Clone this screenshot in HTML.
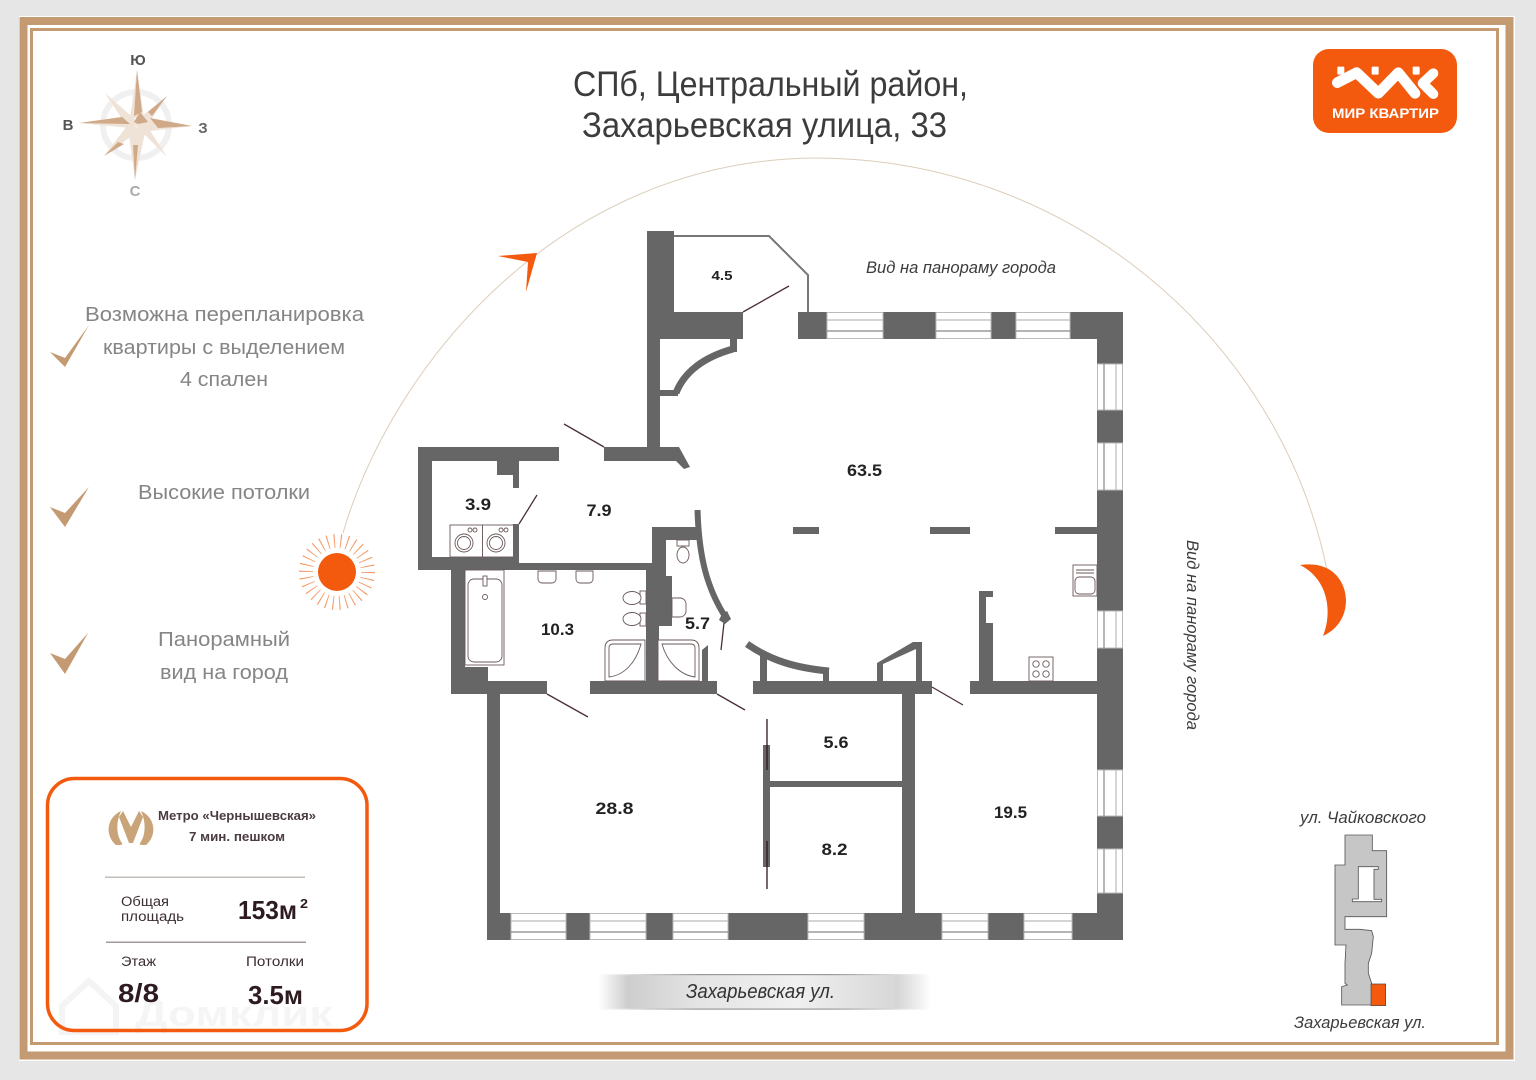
<!DOCTYPE html>
<html lang="ru"><head><meta charset="utf-8"><title>План квартиры</title>
<style>html,body{margin:0;padding:0;background:#e6e6e6}svg{display:block}text{font-family:"Liberation Sans",sans-serif}</style></head>
<body>
<svg xmlns="http://www.w3.org/2000/svg" width="1536" height="1080" viewBox="0 0 1536 1080">
<defs>
<linearGradient id="st" x1="0" x2="1" y1="0" y2="0"><stop offset="0" stop-color="#fff"/><stop offset=".025" stop-color="#f2f2f2"/><stop offset=".09" stop-color="#cdcdcd"/><stop offset=".3" stop-color="#e4e4e4"/><stop offset=".6" stop-color="#f0f0f0"/><stop offset=".9" stop-color="#d6d6d6"/><stop offset=".975" stop-color="#f4f4f4"/><stop offset="1" stop-color="#fff"/></linearGradient>
<linearGradient id="stl" x1="0" x2="1" y1="0" y2="0"><stop offset="0" stop-color="#fff"/><stop offset=".3" stop-color="#999"/><stop offset=".7" stop-color="#999"/><stop offset="1" stop-color="#fff"/></linearGradient>
</defs>
<rect width="1536" height="1080" fill="#e6e6e6"/>
<rect x="19" y="16" width="1496" height="1045" fill="#fff"/>
<rect x="23.500" y="21" width="1486" height="1034.500" fill="none" stroke="#c49a72" stroke-width="8"/>
<rect x="31.500" y="29.500" width="1466" height="1014" fill="#fff" stroke="#c49a72" stroke-width="3"/>

<!-- sun arc -->
<path d="M343 533 C 392 365, 560 160, 815 158 C 1070 158, 1280 340, 1327 570" fill="none" stroke="#dccdba" stroke-width="1"/>
<polygon points="537,253 498,256 528,262 526,292" fill="#f35a0e"/>
<circle cx="337" cy="572" r="31" fill="none" stroke="#f59a68" stroke-width="14" stroke-dasharray="1 5.490"/>
<circle cx="337" cy="572" r="19" fill="#f35a0e"/>
<path d="M1300 565 C 1335 560, 1346 585, 1346 600 C 1346 618, 1336 630, 1323 636 C 1332 615, 1330 580, 1300 565Z" fill="#f35a0e"/>

<!-- compass -->
<circle cx="136" cy="125" r="33" fill="none" stroke="#f0f0f0" stroke-width="6"/>
<g fill="#efe2d7">
<polygon points="137,70 144,118 130,118"/><polygon points="135,180 128,128 146,128"/><polygon points="79,123 130,116 130,128"/><polygon points="192,126 140,118 142,132"/>
<polygon points="105,93 138,122 128,128"/><polygon points="167,96 132,124 144,130"/><polygon points="104,156 130,122 140,130"/><polygon points="167,157 132,122 142,118"/>
</g>
<g fill="#cfa988">
<polygon points="137,70 142,112 134,116"/><polygon points="135,180 133,145 138,145"/><polygon points="79,123 122,117 130,124"/><polygon points="192,126 150,118 158,128"/>
<polygon points="167,96 148,112 152,116"/><polygon points="104,156 118,142 124,144"/><polygon points="134,122 140,112 148,122 138,124"/>
</g>
<g font-weight="bold" font-size="15" text-anchor="middle">
<text x="138" y="65" fill="#555">Ю</text><text x="68" y="130" fill="#555">В</text><text x="203" y="133" fill="#666">З</text><text x="135" y="196" fill="#aaa">С</text>
</g>

<!-- title -->
<g fill="#3c3c3c" font-size="35">
<text x="573" y="96" textLength="395" lengthAdjust="spacingAndGlyphs">СПб, Центральный район,</text>
<text x="582" y="137" textLength="365" lengthAdjust="spacingAndGlyphs">Захарьевская улица, 33</text>
</g>

<!-- logo -->
<rect x="1313" y="49" width="144" height="84" rx="16" fill="#f35a0e"/>
<g transform="translate(1300 40) scale(.3333)">
<polyline points="112,128 170,98 235,160 295,98 345,160" fill="none" stroke="#fff" stroke-width="32" stroke-linejoin="round" stroke-linecap="round"/>
<polyline points="400,100 368,130 400,162" fill="none" stroke="#fff" stroke-width="30" stroke-linejoin="round" stroke-linecap="round"/>
<rect x="112" y="80" width="21" height="24" rx="3" fill="#fff"/><rect x="215" y="80" width="21" height="24" rx="3" fill="#fff"/><rect x="338" y="80" width="21" height="24" rx="3" fill="#fff"/>
</g>
<text x="1332" y="118" fill="#fff" font-weight="bold" font-size="13.500" textLength="107" lengthAdjust="spacingAndGlyphs">МИР КВАРТИР</text>

<!-- features -->
<g fill="#c49a72">
<polygon points="50,352 65,358 89,325 65,367"/><polygon points="50,507 65,513 89,487 65,527"/><polygon points="50,653 65,659 88,633 65,674"/>
</g>
<g fill="#858585" font-size="20">
<text x="85" y="321" textLength="279" lengthAdjust="spacingAndGlyphs">Возможна перепланировка</text>
<text x="103" y="354" textLength="242" lengthAdjust="spacingAndGlyphs">квартиры с выделением</text>
<text x="180" y="386" textLength="88" lengthAdjust="spacingAndGlyphs">4 спален</text>
<text x="138" y="499" textLength="172" lengthAdjust="spacingAndGlyphs">Высокие потолки</text>
<text x="158" y="646" textLength="132" lengthAdjust="spacingAndGlyphs">Панорамный</text>
<text x="160" y="679" textLength="128" lengthAdjust="spacingAndGlyphs">вид на город</text>
</g>

<!-- metro card -->
<g fill="#f1f1f1" opacity=".7">
<path d="M62 1006 L89 981 L116 1006 L116 1032 L62 1032Z" fill="none" stroke="#efefef" stroke-width="6"/>
<text x="135" y="1026" font-size="36" font-weight="bold" textLength="197" lengthAdjust="spacingAndGlyphs">Домклик</text>
</g>
<rect x="47.500" y="778.500" width="319.500" height="252" rx="27" fill="none" stroke="#f35a0e" stroke-width="3.500"/>
<g fill="#c9a478">
<path d="M121 811 C 106 818, 105 836, 116 845 C 121 845, 123 845, 122 843 C 116 835,116 822,121 811Z"/>
<path d="M141 811 C 156 818, 157 836, 146 845 C 141 845, 139 845, 140 843 C 146 835,146 822,141 811Z"/>
<path d="M123 811 L131 827 L139 811 L143 817 L133 843 L129 843 L119 817Z"/>
</g>
<g fill="#3a2c30" font-size="12.500">
<text x="158" y="820" font-weight="bold" fill="#4a3c40" textLength="158" lengthAdjust="spacingAndGlyphs">Метро «Чернышевская»</text>
<text x="189" y="841" font-weight="bold" fill="#4a3c40" textLength="96" lengthAdjust="spacingAndGlyphs">7 мин. пешком</text>
<text x="121" y="906" font-size="13.500" textLength="48" lengthAdjust="spacingAndGlyphs">Общая</text>
<text x="121" y="921" font-size="13.500" textLength="63" lengthAdjust="spacingAndGlyphs">площадь</text>
<text x="121" y="966" font-size="13.500" textLength="35" lengthAdjust="spacingAndGlyphs">Этаж</text>
<text x="246" y="966" font-size="13.500" textLength="58" lengthAdjust="spacingAndGlyphs">Потолки</text>
</g>
<rect x="105" y="876.500" width="200" height="1.500" fill="#c4bcb8"/>
<rect x="106" y="941.500" width="200" height="1.500" fill="#a09a98"/>
<g fill="#2d1b20" font-weight="bold">
<text x="238" y="919" font-size="26" textLength="59" lengthAdjust="spacingAndGlyphs">153м</text>
<text x="300" y="908" font-size="13" textLength="8" lengthAdjust="spacingAndGlyphs">2</text>
<text x="118" y="1002" font-size="26" textLength="41" lengthAdjust="spacingAndGlyphs">8/8</text>
<text x="248" y="1004" font-size="26" textLength="55" lengthAdjust="spacingAndGlyphs">3.5м</text>
</g>

<!-- walls -->
<g fill="#666">
<rect x="647" y="231" width="27" height="108"/>
<rect x="647" y="312" width="96" height="27"/>
<rect x="647" y="339" width="13" height="115"/>
<rect x="730" y="339" width="7" height="13"/>
<rect x="660" y="390" width="18" height="6"/>
<rect x="604" y="447" width="75" height="14"/>
<polygon points="679,447 690,467 684,469 676,461"/>
<rect x="418" y="447" width="141" height="14"/>
<rect x="418" y="447" width="14" height="123"/>
<rect x="497" y="461" width="22" height="14"/>
<rect x="513" y="475" width="6" height="13"/>
<rect x="513" y="524" width="6" height="40"/>
<rect x="418" y="557" width="101" height="13"/>
<rect x="418" y="563" width="234" height="7"/>
<rect x="451" y="570" width="14" height="124"/>
<rect x="451" y="667" width="37" height="27"/>
<rect x="451" y="681" width="96" height="13"/>
<rect x="487" y="694" width="13" height="246"/>
<rect x="652" y="527" width="48" height="13"/>
<rect x="652" y="527" width="14" height="49"/>
<rect x="646" y="564" width="20" height="62"/>
<rect x="646" y="576" width="26" height="50"/>
<rect x="646" y="626" width="13" height="55"/>
<rect x="590" y="681" width="127" height="13"/>
<polygon points="702,650 708,645 708,681 702,681"/>
<rect x="753" y="681" width="179" height="13"/>
<rect x="760" y="653" width="7" height="28"/>
<rect x="823" y="668" width="6" height="13"/>
<polygon points="877,663 913,642 922,642 922,681 916,681 916,649 883,664 883,681 877,681"/>
<rect x="902" y="694" width="13" height="219"/>
<rect x="763" y="745" width="7" height="122"/>
<rect x="770" y="781" width="132" height="6"/>
<rect x="793" y="527" width="26" height="7"/>
<rect x="930" y="527" width="40" height="7"/>
<rect x="1055" y="527" width="42" height="7"/>
<rect x="979" y="623" width="14" height="58"/>
<rect x="979" y="591" width="7" height="32"/>
<rect x="979" y="591" width="14" height="6"/>
<rect x="970" y="681" width="127" height="13"/>
<rect x="798" y="312" width="325" height="27"/>
<rect x="1097" y="312" width="26" height="628"/>
<rect x="487" y="913" width="636" height="27"/>
<polygon points="722,614 727,611 731,619 725,624 719,620"/>
</g>
<g fill="none" stroke="#666">
<path d="M697.500 510 C 699 560, 708 590, 726 618" stroke-width="6"/>
<path d="M747 644 C 770 660, 795 668, 829 671" stroke-width="7"/>
<path d="M676 393 C 684 372, 704 357, 733 349" stroke-width="7"/>
<polyline points="674,236 769,236 808,275 808,312" stroke-width="2" stroke="#777"/>
</g>

<!-- windows -->
<g fill="#fff" stroke="#bbb" stroke-width="1">
<rect x="827" y="312.500" width="56" height="26"/><rect x="936" y="312.500" width="55" height="26"/><rect x="1016" y="312.500" width="54" height="26"/>
<rect x="1097.500" y="364" width="25" height="46"/><rect x="1097.500" y="443" width="25" height="47"/><rect x="1097.500" y="611" width="25" height="37"/><rect x="1097.500" y="770" width="25" height="46"/><rect x="1097.500" y="849" width="25" height="44"/>
<rect x="511" y="913.500" width="55" height="26"/><rect x="590" y="913.500" width="56" height="26"/><rect x="673" y="913.500" width="55" height="26"/><rect x="808" y="913.500" width="56" height="26"/><rect x="942" y="913.500" width="46" height="26"/><rect x="1024" y="913.500" width="48" height="26"/>
</g>
<g stroke="#bbb" stroke-width="1.200">
<path d="M827 320H883M936 320H991M1016 320H1070M511 921H566M590 921H646M673 921H728M808 921H864M942 921H988M1024 921H1072M1116 364V410M1116 443V490M1116 611V648M1116 770V816M1116 849V893"/>
</g>
<g stroke="#888" stroke-width="1.200">
<path d="M827 331H883M936 331H991M1016 331H1070M511 932H566M590 932H646M673 932H728M808 932H864M942 932H988M1024 932H1072M1104 364V410M1104 443V490M1104 611V648M1104 770V816M1104 849V893"/>
</g>

<!-- doors -->
<g stroke="#4a3036" stroke-width="1.300" fill="none">
<path d="M743 312L789 286M604 447L564 424M519 524L537 495M547 694L588 717M717 694L745 710M932 687L963 705M724 623L721 650"/>
<path d="M767 719V770M767 841V889" stroke="#301820"/>
</g>

<!-- fixtures -->
<g fill="#fff" stroke="#6a5a5a" stroke-width=".9">
<rect x="450" y="525" width="32.500" height="32"/><rect x="482.500" y="525" width="31" height="32"/>
<circle cx="464" cy="543" r="9"/><circle cx="464" cy="543" r="6.500"/><circle cx="496" cy="543" r="9"/><circle cx="496" cy="543" r="6.500"/>
<circle cx="470" cy="530" r="2"/><circle cx="475" cy="530" r="2"/><circle cx="501" cy="530" r="2"/><circle cx="506" cy="530" r="2"/>
<rect x="465" y="570" width="39" height="95"/><rect x="468" y="579" width="34" height="83" rx="6"/>
<circle cx="485" cy="597" r="2.500"/><rect x="483" y="576" width="4" height="10"/>
<path d="M538 571h18v8a4 4 0 0 1-4 4h-10a4 4 0 0 1-4-4z"/><path d="M576 571h17v8a4 4 0 0 1-4 4h-9a4 4 0 0 1-4-4z"/>
<rect x="640" y="591" width="6" height="13"/><ellipse cx="632" cy="598" rx="9" ry="6.500"/>
<rect x="640" y="613" width="6" height="13"/><ellipse cx="632" cy="619" rx="9" ry="6.500"/>
<path d="M672 598h8a6 6 0 0 1 6 6v7a6 6 0 0 1-6 6h-8z"/>
<rect x="677" y="540" width="12" height="6"/><ellipse cx="683" cy="555" rx="6" ry="8"/>
<path d="M645 640H613q-8 0-8 8v33h40z" /><path d="M641 644C 636 662, 625 675, 609 677V648q0-4 4-4z"/>
<path d="M658 640h33q8 0 8 8v33H658z"/><path d="M662 644C 667 662, 680 675, 695 677V648q0-4-4-4z"/>
<rect x="1073" y="565" width="24" height="31"/><rect x="1075" y="577" width="20" height="17" rx="4"/><path d="M1076 570H1094M1076 573H1094"/>
<rect x="1029" y="657" width="24" height="24"/>
<circle cx="1036" cy="664" r="3.200"/><circle cx="1046" cy="664" r="3.200"/><circle cx="1036" cy="674" r="3.200"/><circle cx="1046" cy="674" r="3.200"/>
</g>

<!-- room areas -->
<g fill="#222" font-size="17" font-weight="bold" text-anchor="middle">
<text x="864.500" y="476" textLength="35" lengthAdjust="spacingAndGlyphs">63.5</text>
<text x="722" y="280" font-size="13" textLength="21" lengthAdjust="spacingAndGlyphs">4.5</text>
<text x="478" y="510" textLength="26" lengthAdjust="spacingAndGlyphs">3.9</text>
<text x="599" y="516" textLength="25" lengthAdjust="spacingAndGlyphs">7.9</text>
<text x="557.500" y="635" textLength="33" lengthAdjust="spacingAndGlyphs">10.3</text>
<text x="697.500" y="629" textLength="25" lengthAdjust="spacingAndGlyphs">5.7</text>
<text x="836" y="748" textLength="25" lengthAdjust="spacingAndGlyphs">5.6</text>
<text x="834.500" y="855" textLength="26" lengthAdjust="spacingAndGlyphs">8.2</text>
<text x="614.500" y="814" textLength="38" lengthAdjust="spacingAndGlyphs">28.8</text>
<text x="1010.500" y="818" textLength="33" lengthAdjust="spacingAndGlyphs">19.5</text>
</g>

<!-- view labels -->
<g fill="#3c3c3c" font-style="italic">
<text x="866" y="273" font-size="17" textLength="190" lengthAdjust="spacingAndGlyphs">Вид на панораму города</text>
<text transform="translate(1187 540) rotate(90)" font-size="17" textLength="190" lengthAdjust="spacingAndGlyphs">Вид на панораму города</text>
<text x="1300" y="823" font-size="17" textLength="126" lengthAdjust="spacingAndGlyphs">ул. Чайковского</text>
<text x="1294" y="1028" font-size="17" textLength="132" lengthAdjust="spacingAndGlyphs">Захарьевская ул.</text>
</g>

<!-- street -->
<rect x="598" y="975" width="333" height="34" fill="url(#st)"/>
<rect x="598" y="974" width="333" height="1.200" fill="url(#stl)"/>
<rect x="598" y="1008.500" width="333" height="1.200" fill="url(#stl)"/>
<text x="686" y="998" font-size="20" font-style="italic" fill="#333" textLength="149" lengthAdjust="spacingAndGlyphs">Захарьевская ул.</text>

<!-- minimap -->
<g transform="translate(1270 800) scale(.3333)">
<path d="M225 105H307V152H350V350H225V388H270L305 392L310 410L305 460L295 490V520L305 550V615H215V560L232 555L225 550V490L228 435H195V195H225Z M265 200V297H247V305H335V298H312V208H325V200Z" fill="#c6c6c6" fill-rule="evenodd" stroke="#555" stroke-width="2.500"/>
<rect x="303" y="552" width="44" height="65" fill="#f35a0e" stroke="#444" stroke-width="2"/>
</g>
</svg>
</body></html>
